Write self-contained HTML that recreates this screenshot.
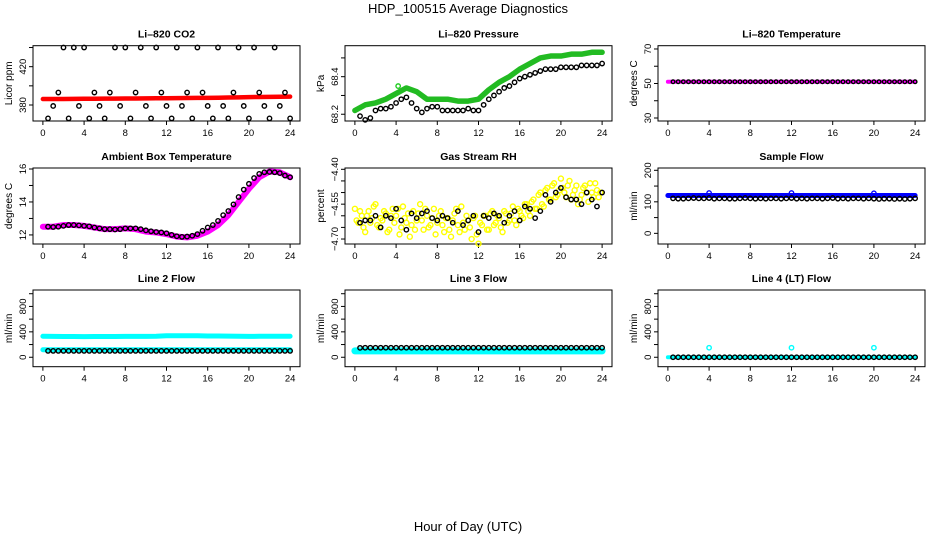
<!DOCTYPE html>
<html><head><meta charset="utf-8"><style>
html,body{margin:0;padding:0;background:#fff;}
svg{display:block;font-family:"Liberation Sans",sans-serif;}
</style></head><body>
<svg id="c" width="936" height="540" viewBox="0 0 936 540">
<text x="468" y="13" text-anchor="middle" font-size="13">HDP_100515  Average Diagnostics</text>
<text x="468" y="531" text-anchor="middle" font-size="13">Hour of Day (UTC)</text>
</svg>
<script>
const hours=[0,1,2,3,4,5,6,7,8,9,10,11,12,13,14,15,16,17,18,19,20,21,22,23,24];
const halfHours=[0.5,1,1.5,2,2.5,3,3.5,4,4.5,5,5.5,6,6.5,7,7.5,8,8.5,9,9.5,10,10.5,11,11.5,12,12.5,13,13.5,14,14.5,15,15.5,16,16.5,17,17.5,18,18.5,19,19.5,20,20.5,21,21.5,22,22.5,23,23.5,24];
const xTicks=[0,4,8,12,16,20,24];
const co2Red=[386.2,386.3,386.3,386.4,386.5,386.5,386.6,386.7,386.8,386.8,386.9,387.0,387.1,387.2,387.3,387.4,387.5,387.6,387.8,388.0,388.2,388.4,388.5,388.6,388.7];
const co2Black=[366,379,393,440,366,440,379,440,366,393,379,366,393,440,379,440,366,393,440,379,366,440,393,379,366,440,379,393,366,440,393,379,366,440,379,366,393,440,379,366,440,393,379,366,440,379,393,366];
const presGreen=[68.22,68.25,68.26,68.28,68.31,68.34,68.32,68.28,68.28,68.28,68.27,68.27,68.28,68.33,68.37,68.40,68.44,68.47,68.50,68.51,68.51,68.52,68.52,68.53,68.53];
const presBlack=[68.19,68.17,68.18,68.22,68.23,68.23,68.24,68.26,68.28,68.29,68.26,68.23,68.21,68.23,68.24,68.24,68.22,68.22,68.22,68.22,68.22,68.23,68.22,68.22,68.25,68.28,68.30,68.32,68.34,68.35,68.37,68.39,68.40,68.41,68.42,68.43,68.44,68.44,68.44,68.45,68.45,68.45,68.45,68.46,68.46,68.46,68.46,68.47];
const tempMagenta=[51,51,51,51,51,51,51,51,51,51,51,51,51,51,51,51,51,51,51,51,51,51,51,51,51];
const tempBlack=[51,51,51,51,51,51,51,51,51,51,51,51,51,51,51,51,51,51,51,51,51,51,51,51,51,51,51,51,51,51,51,51,51,51,51,51,51,51,51,51,51,51,51,51,51,51,51,51];
const ambMagenta=[12.5,12.5,12.6,12.6,12.55,12.45,12.35,12.35,12.4,12.35,12.2,12.15,12.05,11.9,11.85,11.95,12.2,12.6,13.2,14.0,14.8,15.5,15.85,15.8,15.5];
const ambBlack=[12.5,12.48,12.5,12.55,12.6,12.6,12.58,12.55,12.52,12.45,12.4,12.35,12.35,12.33,12.35,12.4,12.4,12.4,12.35,12.28,12.22,12.18,12.15,12.1,12.0,11.92,11.88,11.9,11.95,12.05,12.25,12.45,12.6,12.85,13.2,13.45,13.85,14.3,14.75,15.1,15.45,15.7,15.8,15.82,15.8,15.75,15.6,15.5];
const rhYellowA=[-4.57,-4.63,-4.60,-4.67,-4.58,-4.61,-4.55,-4.65,-4.62,-4.59,-4.66,-4.57,-4.60,-4.68,-4.56,-4.63,-4.69,-4.58,-4.62,-4.55,-4.66,-4.60,-4.64,-4.57,-4.63,-4.58,-4.67,-4.61,-4.69,-4.59,-4.64,-4.56,-4.66,-4.62,-4.70,-4.60,-4.72,-4.64,-4.60,-4.66,-4.58,-4.63,-4.61,-4.67,-4.59,-4.62,-4.56,-4.64,-4.58,-4.61,-4.55,-4.60,-4.53,-4.57,-4.50,-4.56,-4.48,-4.53,-4.46,-4.51,-4.44,-4.50,-4.47,-4.53,-4.49,-4.55,-4.51,-4.47,-4.54,-4.50,-4.46,-4.52];
const rhYellowB=[-4.62,-4.58,-4.65,-4.60,-4.63,-4.56,-4.64,-4.61,-4.58,-4.67,-4.60,-4.63,-4.57,-4.65,-4.61,-4.59,-4.64,-4.66,-4.59,-4.62,-4.57,-4.65,-4.61,-4.68,-4.60,-4.64,-4.61,-4.66,-4.62,-4.57,-4.67,-4.63,-4.60,-4.65,-4.61,-4.68,-4.63,-4.60,-4.66,-4.59,-4.64,-4.60,-4.65,-4.58,-4.63,-4.59,-4.62,-4.57,-4.60,-4.55,-4.58,-4.54,-4.57,-4.51,-4.55,-4.49,-4.53,-4.47,-4.52,-4.49,-4.48,-4.52,-4.45,-4.51,-4.47,-4.53,-4.48,-4.50,-4.46,-4.52,-4.49,-4.50];
const rhBlack=[-4.63,-4.62,-4.62,-4.60,-4.65,-4.60,-4.61,-4.57,-4.62,-4.66,-4.59,-4.61,-4.59,-4.58,-4.61,-4.62,-4.60,-4.61,-4.63,-4.58,-4.64,-4.62,-4.60,-4.67,-4.60,-4.61,-4.59,-4.60,-4.63,-4.60,-4.58,-4.62,-4.56,-4.57,-4.61,-4.58,-4.51,-4.54,-4.50,-4.48,-4.52,-4.53,-4.53,-4.55,-4.50,-4.53,-4.56,-4.50];
const sampleBlue=[120,120,120,120,120,120,120,120,120,120,120,120,120,120,120,120,120,120,120,120,120,120,120,120,120];
const sampleBlueSpikeT=[4,12,20];
const sampleBlueSpikeV=[128,128,127];
const sampleBlack=[111,110,110,111,112,111,111,112,110,111,111,110,110,111,112,111,110,111,110,111,111,110,111,112,110,111,110,111,111,110,111,112,110,111,110,111,111,110,111,110,109,110,110,109,110,109,110,111];
const line2High=[330,328,326,326,325,327,327,327,328,328,328,330,338,338,338,338,335,334,333,330,328,330,330,330,330];
const line2Low=[118,118,118,118,118,118,118,118,118,118,118,118,118,118,118,118,118,118,118,118,118,118,118,118,118];
const line2Black=[100,100,100,100,100,100,100,100,100,100,100,100,100,100,100,100,100,100,100,100,100,100,100,100,100,100,100,100,100,100,100,100,100,100,100,100,100,100,100,100,100,100,100,100,100,100,100,100];
const line3Cyan=[100,100,100,100,100,100,100,100,100,100,100,100,100,100,100,100,100,100,100,100,100,100,100,100,100];
const line3Black=[148,150,150,150,150,150,150,150,150,150,150,150,150,150,150,150,150,150,150,150,150,150,150,150,150,150,150,150,150,150,150,150,150,150,150,150,150,150,150,150,150,150,150,150,150,150,150,150];
const line4Cyan=[0,0,0,0,0,0,0,0,0,0,0,0,0,0,0,0,0,0,0,0,0,0,0,0,0];
const line4SpikeT=[4,12,20];
const line4SpikeV=[150,150,150];
const line4Black=[0,0,0,0,0,0,0,0,0,0,0,0,0,0,0,0,0,0,0,0,0,0,0,0,0,0,0,0,0,0,0,0,0,0,0,0,0,0,0,0,0,0,0,0,0,0,0,0];
const rhYellowTimes=rhYellowA.map((_,i)=>i/3);
const rhYellowTimesB=rhYellowB.map((_,i)=>i/3+1/6);

const NS='http://www.w3.org/2000/svg';
const svg=document.getElementById('c');
function mk(tag,attrs,parent){const e=document.createElementNS(NS,tag);for(const k in attrs)e.setAttribute(k,attrs[k]);(parent||svg).appendChild(e);return e;}
const colL=[33,345,658],rowT=[45.7,168,290],rowB=[121,244,366.7],W=267;
function panel(col,row,title,ylab,ylim,ticks,labels,name,fmt){
  const L=colL[col],T=rowT[row],B=rowB[row];
  const g=mk('g',{});
  
  
  const sx=t=>L+(t+0.96)*W/25.92;
  const sy=v=>B-(v-ylim[0])/(ylim[1]-ylim[0])*(B-T);
  const box=mk('rect',{x:L,y:T,width:W,height:B-T,fill:'none',stroke:'#000','stroke-width':1},g);
  
  const tt=mk('text',{x:L+W/2,y:T-8,'text-anchor':'middle','font-size':10.5,'font-weight':'bold'},g);tt.textContent=title;
  
  const yl=mk('text',{transform:`translate(${L-21},${(T+B)/2}) rotate(-90)`,'text-anchor':'middle','font-size':10},g);yl.textContent=ylab;
  
  xTicks.forEach(t=>{mk('line',{x1:sx(t),x2:sx(t),y1:B,y2:B+4,stroke:'#000'},g);
    const tx=mk('text',{x:sx(t),y:B+15,'text-anchor':'middle','font-size':9.5},g);tx.textContent=t;
    });
  ticks.forEach(v=>{mk('line',{x1:L-4,x2:L,y1:sy(v),y2:sy(v),stroke:'#000'},g);});
  labels.forEach(v=>{const ty=mk('text',{transform:`translate(${L-7},${sy(v)}) rotate(-90)`,'text-anchor':'middle','font-size':9.5},g);
    ty.textContent=fmt?fmt(v):String(v);
    });
  return {g,sx,sy};
}
function band(p,ts,vs,color,w,name){
  const pl=mk('polyline',{points:ts.map((t,i)=>p.sx(t)+','+p.sy(vs[i])).join(' '),fill:'none',stroke:color,'stroke-width':w,'stroke-linecap':'round','stroke-linejoin':'round'},p.g);
  
}
function rings(p,ts,vs,color,name,r){
  ts.forEach((t,i)=>{const c=mk('circle',{cx:p.sx(t),cy:p.sy(vs[i]),r:r||2.2,fill:'none',stroke:color,'stroke-width':1.4},p.g);
    });
}
let p;
p=panel(0,0,'Li\u2013820 CO2','Licor ppm',[363.3,441.9],[380,400,420,440],[380,420],'co2');
band(p,hours,co2Red,'#ff0000',4.5,'co2-red-series');rings(p,halfHours,co2Black,'#000','co2-black-point');
p=panel(1,0,'Li\u2013820 Pressure','kPa',[68.164,68.565],[68.2,68.3,68.4,68.5],[68.2,68.4],'pressure',v=>v.toFixed(1));
band(p,hours,presGreen,'#22bb22',5.5,'pressure-green-series');rings(p,[4.2],[68.35],'#22cc22','pressure-green-point');rings(p,halfHours,presBlack,'#000','pressure-black-point');
p=panel(2,0,'Li\u2013820 Temperature','degrees C',[28.26,71.9],[30,40,50,60,70],[30,50,70],'temperature');
band(p,hours,tempMagenta,'#ff00ff',4,'temperature-magenta-series');rings(p,halfHours,tempBlack,'#000','temperature-black-point',1.8);
p=panel(0,1,'Ambient Box Temperature','degrees C',[11.45,16.06],[12,13,14,15,16],[12,14,16],'ambient');
band(p,hours,ambMagenta,'#ff00ff',6,'ambient-magenta-series');rings(p,halfHours,ambBlack,'#000','ambient-black-point');
p=panel(1,1,'Gas Stream RH','percent',[-4.7214,-4.3944],[-4.70,-4.65,-4.60,-4.55,-4.50,-4.45,-4.40],[-4.70,-4.55,-4.40],'rh',v=>'\u2212'+Math.abs(v).toFixed(2));
rings(p,rhYellowTimes,rhYellowA,'#ffff00','rh-yellow-point',2.5);rings(p,rhYellowTimesB,rhYellowB,'#ffff00','rh-yellow-point',2.5);rings(p,halfHours,rhBlack,'#000','rh-black-point');
p=panel(2,1,'Sample Flow','ml/min',[-33.8,207.3],[0,50,100,150,200],[0,100,200],'sample-flow');
band(p,hours,sampleBlue,'#0000ff',5,'sample-blue-series');rings(p,sampleBlueSpikeT,sampleBlueSpikeV,'#0000ff','sample-blue-point');rings(p,halfHours,sampleBlack,'#000','sample-black-point');
const fl=[-148.6,1058.5],ft=[0,200,400,600,800,1000],fll=[0,400,800];
p=panel(0,2,'Line 2 Flow','ml/min',fl,ft,fll,'line2-flow');
band(p,hours,line2High,'#00ffff',5,'line2-cyan-high-series');band(p,hours,line2Low,'#00ffff',5,'line2-cyan-low-series');rings(p,halfHours,line2Black,'#000','line2-black-point');
p=panel(1,2,'Line 3 Flow','ml/min',fl,ft,fll,'line3-flow');
band(p,hours,line3Cyan,'#00ffff',7,'line3-cyan-series');rings(p,halfHours,line3Black,'#000','line3-black-point');
p=panel(2,2,'Line 4 (LT) Flow','ml/min',fl,ft,fll,'line4-flow');
band(p,hours,line4Cyan,'#00ffff',4,'line4-cyan-series');rings(p,line4SpikeT,line4SpikeV,'#00ffff','line4-cyan-point');rings(p,halfHours,line4Black,'#000','line4-black-point');
</script>
</body></html>
